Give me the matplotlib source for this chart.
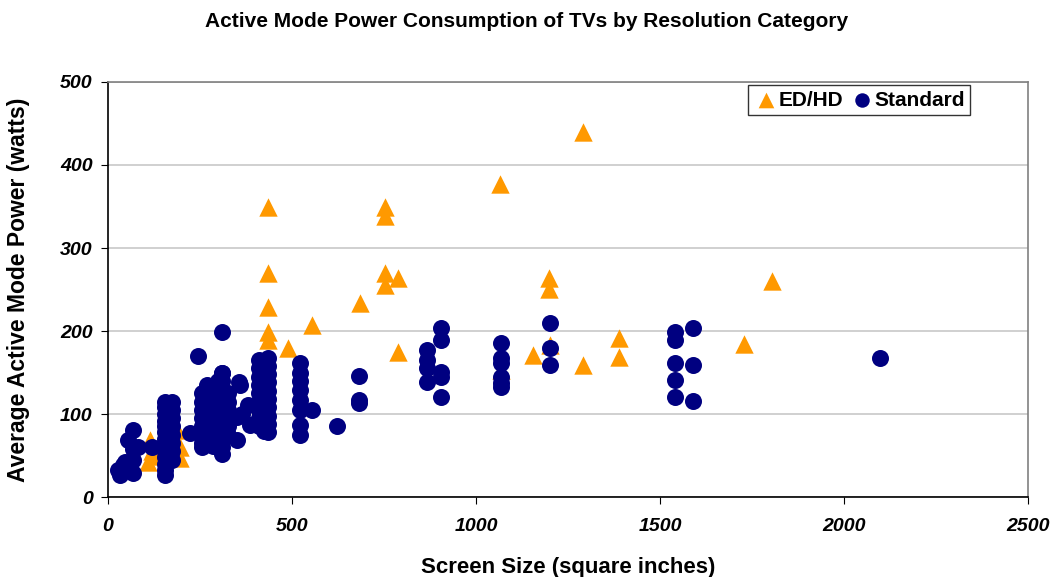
import matplotlib
matplotlib.use("Agg")
import matplotlib.pyplot as plt

# ED/HD sets (screen size sq in, active power W)
edhd_x = [435, 435, 435, 435, 435, 489, 554, 685, 753, 753, 753, 753, 788, 788,
          1065, 1068, 1155, 1198, 1198, 1201, 1291, 1291, 1389, 1389, 1728, 1804,
          114, 109, 119, 135, 188, 196, 196]
edhd_y = [349, 270, 229, 199, 189, 180, 207, 234, 349, 339, 270, 255, 264, 175,
          377, 153, 171, 264, 251, 183, 440, 159, 191, 169, 184, 260,
          69, 42, 55, 50, 81, 47, 60]

# Standard sets
std_x = [27, 33, 40, 46, 55, 68, 68, 68, 68, 82, 119,
         155, 155, 155, 155, 155, 155, 155, 155, 155, 155, 155, 155, 155,
         175, 175, 175, 175, 175, 175, 175, 175,
         223, 245, 310, 310,
         255, 255, 255, 255, 255, 255, 255, 255,
         270, 270, 270, 270, 270, 270, 270, 270,
         285, 285, 285, 285, 285, 285, 285, 285,
         300, 300, 300, 300, 300, 300, 300, 300, 300,
         310, 310, 310, 310, 310, 310, 310, 310, 310, 310, 310,
         325, 325, 325, 325, 325, 325,
         350, 350, 359, 355, 380, 386, 365,
         410, 410, 410, 410, 410, 410, 410, 410, 410,
         425, 425, 425, 425, 425, 425, 425, 425, 425,
         435, 435, 435, 435, 435, 435, 435, 435, 435, 435,
         522, 522, 522, 522, 522, 522, 522, 522,
         554, 622, 682, 682, 682,
         867, 867, 867, 867,
         905, 905, 905, 905, 905,
         1068, 1068, 1068, 1068, 1068, 1068,
         1201, 1201, 1201,
         1541, 1541, 1541, 1541, 1541,
         1590, 1590, 1590,
         2098]
std_y = [33, 27, 38, 42, 69, 81, 58, 45, 29, 60, 60,
         115, 108, 100, 92, 85, 78, 70, 62, 55, 48, 40, 33, 27,
         115, 105, 95, 85, 75, 65, 55, 45,
         77, 170, 199, 150,
         125, 115, 105, 95, 85, 75, 65, 60,
         135, 125, 115, 105, 95, 85, 75, 65,
         130, 120, 110, 100, 90, 80, 70, 62,
         140, 130, 120, 110, 100, 90, 80, 70, 60,
         150, 140, 130, 120, 110, 100, 90, 80, 70, 60, 52,
         125, 115, 105, 95, 85, 75,
         97, 69, 135, 138, 111, 87, 100,
         165, 155, 145, 135, 125, 115, 105, 95, 85,
         160, 150, 140, 130, 120, 110, 100, 90, 80,
         168, 158, 148, 138, 128, 118, 108, 98, 88, 78,
         161, 150, 140, 129, 117, 105, 87, 75,
         105, 86, 146, 117, 113,
         177, 165, 155, 139,
         204, 189, 151, 145, 120,
         185, 167, 162, 145, 137, 133,
         210, 180, 159,
         199, 189, 161, 141, 120,
         204, 159, 116,
         168]

x_ticks = [0, 500, 1000, 1500, 2000, 2500]
y_ticks = [0, 100, 200, 300, 400, 500]

plt.rcParams["font.family"] = ["Liberation Sans", "DejaVu Sans"]

ORANGE = "#FF9900"
NAVY = "#000080"

fig = plt.figure(figsize=(10.53, 5.77), dpi=100)
ax = fig.add_axes([0.1026, 0.1386, 0.8737, 0.7193])

ax.scatter(edhd_x, edhd_y, marker="^", s=175, color=ORANGE,
           linewidths=0, label="ED/HD", zorder=3)
ax.scatter(std_x, std_y, marker="o", s=150, color=NAVY,
           linewidths=0, label="Standard", zorder=4)

ax.set_xlim(0, 2500)
ax.set_ylim(0, 500)
ax.set_xticks(x_ticks)
ax.set_yticks(y_ticks)
ax.set_xticklabels([str(v) for v in x_ticks], fontsize=14,
                   fontweight="bold", fontstyle="italic")
ax.set_yticklabels([str(v) for v in y_ticks], fontsize=14,
                   fontweight="bold", fontstyle="italic")
ax.tick_params(axis="x", direction="out", length=5, pad=10)
ax.tick_params(axis="y", direction="out", length=5, pad=6)

ax.yaxis.grid(True, color="#c8c8c8", linewidth=1.2)
ax.set_axisbelow(True)

for side in ["top", "right"]:
    ax.spines[side].set_color("#808080")
    ax.spines[side].set_linewidth(1.2)
for side in ["left", "bottom"]:
    ax.spines[side].set_color("black")
    ax.spines[side].set_linewidth(1.2)

ax.set_xlabel("Screen Size (square inches)", fontsize=16,
              fontweight="bold", labelpad=16)
ax.set_ylabel("Average Active Mode Power (watts)", fontsize=16.5,
              fontweight="bold", labelpad=22)

fig.text(0.5, 0.963, "Active Mode Power Consumption of TVs by Resolution Category",
         ha="center", va="center", fontsize=15, fontweight="bold")

leg = ax.legend(loc="upper right", bbox_to_anchor=(0.937, 0.992), ncol=2,
                fontsize=15, frameon=True, fancybox=False,
                handletextpad=0.0, columnspacing=0.3, borderpad=0.25,
                handlelength=1.2, markerscale=0.85, borderaxespad=0)
leg.get_frame().set_edgecolor("black")
leg.get_frame().set_linewidth(1.0)
for t in leg.get_texts():
    t.set_fontweight("bold")

fig.savefig("out.png", dpi=100)
